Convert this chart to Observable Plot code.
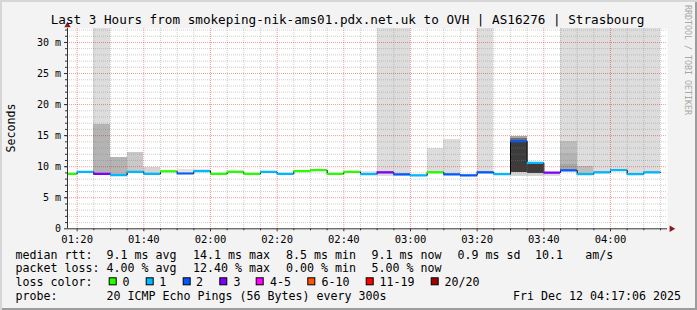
<!DOCTYPE html>
<html><head><meta charset="utf-8">
<script src="https://cdn.jsdelivr.net/npm/d3@7"></script>
<script src="https://cdn.jsdelivr.net/npm/@observablehq/plot@0.6"></script>
<style>
body{margin:0;background:#fff;}
#wrap{position:relative;width:697px;height:310px;background:#f3f3f3;box-shadow:inset 2px 2px 0 #d6d6d6, inset -2px -2px 0 #9c9c9c;overflow:hidden;font-family:"DejaVu Sans Mono",monospace;}
#chart{position:absolute;left:0;top:0;}
#over{position:absolute;left:0;top:0;pointer-events:none;}
</style></head><body>
<div id="wrap"><div id="chart"></div><svg id="over" width="697" height="310"></svg></div>
<script>
// ---------- data ----------
const title = "Last 3 Hours from smokeping-nik-ams01.pdx.net.uk to OVH | AS16276 | Strasbourg";
const yLabel = "Seconds";
const viewStart = "01:17:06", viewEnd = "04:17:06";
const stepMinutes = 5;
const times = ["01:15","01:20","01:25","01:30","01:35","01:40","01:45","01:50","01:55",
  "02:00","02:05","02:10","02:15","02:20","02:25","02:30","02:35","02:40","02:45","02:50","02:55",
  "03:00","03:05","03:10","03:15","03:20","03:25","03:30","03:35","03:40","03:45","03:50","03:55",
  "04:00","04:05","04:10"];
const median = [8.85,9.15,8.85,8.65,9.15,8.85,9.25,8.9,9.3,
  8.85,9.15,8.85,9.15,8.85,9.3,9.45,8.85,9.15,8.8,9.1,8.75,
  8.6,9.1,8.75,8.6,9.1,8.8,14.1,10.6,9.05,9.4,8.8,9.1,
  9.45,8.8,9.1];
const lost = [0,1,3,1,1,1,0,2,1,
  0,0,0,1,1,0,0,0,0,1,3,2,
  1,0,2,2,2,1,2,1,3,2,1,1,
  1,1,1];
// smoke (ping spread) bands; hi null = beyond the top of the chart
const smokeTime = ["01:25","01:25","01:30","01:35","01:40","01:50","01:55","02:05","02:45","02:50","02:55",
  "03:05","03:10","03:20","03:30","03:30","03:30","03:30","03:35","03:35","03:40",
  "03:45","03:45","03:45","03:45","03:50","03:50","03:55","04:00","04:05","04:10"];
const smokeLo = [8.6,8.6,8.5,8.9,8.7,8.8,9.2,9.1,8.8,8.4,8.5,
  9.0,8.7,9.0,8.45,9.0,14.1,14.5,8.45,8.85,8.45,
  9.4,12.1,10.35,9.4,8.8,8.8,9.1,9.45,8.8,9.1];
const smokeHi = [null,16.8,11.5,12.3,9.9,9.6,9.5,9.4,9.25,null,null,
  13.0,14.4,null,9.0,14.1,14.5,14.9,8.85,10.35,9.0,
  null,14.05,12.1,10.35,null,10.0,null,null,null,null];
const smokeDensity = [2,6,6,4,3,1,1,1,1,2,2,
  2,2,2,3,9,8,7,3,9,2,
  2,5,6,7,2,5,2,2,2,2];
const yTop = 32.25;
const yTicks = [0,5,10,15,20,25,30];
const yTickLabels = ["0","5 m","10 m","15 m","20 m","25 m","30 m"];
const xTicks = ["01:20","01:40","02:00","02:20","02:40","03:00","03:20","03:40","04:00"];
const lossLabels = ["0","1","2","3","4-5","6-10","11-19","20/20"];
const lossColors = ["#26ff00","#00b8ff","#0059ff","#7e00ff","#ff00ff","#ff5500","#ff0000","#a10000"];
const legendRows = [
  ["median rtt:","9.1 ms avg","14.1 ms max","8.5 ms min","9.1 ms now","0.9 ms sd","10.1","am/s"],
  ["packet loss:","4.00 % avg","12.40 % max","0.00 % min","5.00 % now"],
  ["probe:","20 ICMP Echo Pings (56 Bytes) every 300s"]
];
const stamp = "Fri Dec 12 04:17:06 2025";
const watermark = "RRDTOOL / TOBI OETIKER";

// ---------- build ----------
const mins = s => { const p = s.split(":").map(Number); return p[0]*60 + p[1] + (p[2]||0)/60; };
const xDomain = [mins(viewStart), mins(viewEnd)];
const lossColor = d3.scaleThreshold().domain([1,2,3,4,6,11,20]).range(lossColors);
const grays = ["#ffffff","#e4e4e4","#dddddd","#d4d4d4","#c9c9c9","#bdbdbd","#b4b4b4","#a6a6a6","#6e6e6e","#3c3c3c"];

const steps = times.map((t,i) => ({start: mins(t), end: mins(t)+stepMinutes, median: median[i], lost: lost[i]}));
const smoke = smokeTime.map((t,i) => ({start: mins(t), end: mins(t)+stepMinutes, lo: smokeLo[i], hi: smokeHi[i] ?? yTop, d: smokeDensity[i]}));
const stepPts = steps.flatMap(d => [{x: d.start, y: d.median}, {x: d.end, y: d.median}]);

const xMajor = xTicks.map(mins);
const x5 = d3.range(Math.ceil(xDomain[0]/stepMinutes)*stepMinutes, xDomain[1], stepMinutes);
const xMinor = x5.filter(v => !xMajor.includes(v));
const yAll = d3.range(1, Math.floor(yTop)+1);
const yMinor = yAll.filter(v => !yTicks.includes(v));
const yMajor = yTicks.filter(v => v > 0);

const gridDash = "1,1";
const chart = Plot.plot({
  width: 697, height: 245,
  marginLeft: 67, marginRight: 30, marginTop: 28, marginBottom: 16.7,
  style: {fontFamily: "DejaVu Sans Mono", fontSize: "10px", background: "transparent", overflow: "visible", color: "#000"},
  x: {domain: xDomain, type: "linear"},
  y: {domain: [0, yTop]},
  marks: [
    Plot.frame({fill: "#fff", stroke: null}),
    Plot.rect(smoke, {x1: "start", x2: "end", y1: "lo", y2: "hi", fill: d => grays[d.d], clip: true, shapeRendering: "crispEdges"}),
    Plot.ruleY(yMinor, {stroke: "#808080", strokeOpacity: 0.38, strokeDasharray: gridDash}),
    Plot.ruleX(xMinor, {stroke: "#808080", strokeOpacity: 0.38, strokeDasharray: gridDash}),
    Plot.ruleY(yMajor, {stroke: "#e00000", strokeOpacity: 0.4, strokeDasharray: gridDash}),
    Plot.ruleX(xMajor, {stroke: "#e00000", strokeOpacity: 0.4, strokeDasharray: gridDash}),
    Plot.line(stepPts, {x: "x", y: "y", stroke: "#000", strokeWidth: 1, clip: true}),
    Plot.ruleY(steps, {y: "median", x1: "start", x2: "end", stroke: d => lossColor(d.lost), strokeWidth: 2.2, clip: true}),
    Plot.ruleX([xDomain[0]], {stroke: "#333"}),
    Plot.ruleY([0], {stroke: "#333"}),
    Plot.dot([0], {frameAnchor: "top-left", symbol: "triangle", r: 2.4, fill: "#8b1a1a", stroke: null, dy: -3}),
    Plot.dot([0], {frameAnchor: "bottom-right", symbol: "triangle", rotate: 90, r: 2.4, fill: "#8b1a1a", stroke: null, dx: 4}),
    Plot.axisY(yAll, {tickSize: 2, tickFormat: () => "", stroke: "#333"}),
    Plot.axisY(yTicks, {tickSize: 3, tickPadding: 3.5, tickFormat: d => yTickLabels[yTicks.indexOf(d)], label: null, stroke: "#333", fontSize: 10}),
    Plot.axisX(xMinor, {tickSize: 2, tickFormat: () => "", label: null, stroke: "#333"}),
    Plot.axisX(xMajor, {tickSize: 3, tickPadding: 4, tickFormat: d => xTicks[xMajor.indexOf(d)], label: null, stroke: "#333", fontSize: 10.5})
  ]
});
document.getElementById("chart").appendChild(chart);

// ---------- title / labels / legend ----------
const svg = d3.select("#over").style("font-family", "DejaVu Sans Mono");
svg.append("text").attr("x", 347.5).attr("y", 24).attr("text-anchor", "middle").attr("font-size", 12.65).text(title);
svg.append("text").attr("transform", "translate(15,128) rotate(-90)").attr("text-anchor", "middle").attr("font-size", 11.6).text(yLabel);
svg.append("text").attr("transform", "translate(684.5,5) rotate(90)").attr("font-size", 8.3).attr("fill", "#a8a8a8").text(watermark);

const fs = 11.63;
const row1x = [15.5,106.5,193,286,371.5,457.5,535,585.3];
const row2x = [15.5,106.5,193,286,371.5];
const baselines = [258.7, 272.4, 286.0, 299.8];
legendRows[0].forEach((t,i) => svg.append("text").attr("x", row1x[i]).attr("y", baselines[0]).attr("font-size", fs).text(t));
legendRows[1].forEach((t,i) => svg.append("text").attr("x", row2x[i]).attr("y", baselines[1]).attr("font-size", fs).text(t));
svg.append("text").attr("x", 15.5).attr("y", baselines[2]).attr("font-size", fs).text("loss color:");
const boxX = [108.7,145.7,182.7,219.3,255.7,307.3,365.7,430.7];
const labX = [122.6,159.2,196,233.6,270,321.6,379.5,444.5];
lossLabels.forEach((t,i) => {
  svg.append("rect").attr("x", boxX[i]+0.5).attr("y", 277.8).attr("width", 7).attr("height", 7).attr("fill", lossColors[i]).attr("stroke", "#000").attr("stroke-width", 1);
  svg.append("text").attr("x", labX[i]).attr("y", baselines[2]).attr("font-size", fs).text(t);
});
svg.append("text").attr("x", 15.5).attr("y", baselines[3]).attr("font-size", fs).text(legendRows[2][0]);
svg.append("text").attr("x", 106.5).attr("y", baselines[3]).attr("font-size", fs).text(legendRows[2][1]);
svg.append("text").attr("x", 681).attr("y", baselines[3]).attr("text-anchor", "end").attr("font-size", fs).text(stamp);
</script>
</body></html>
